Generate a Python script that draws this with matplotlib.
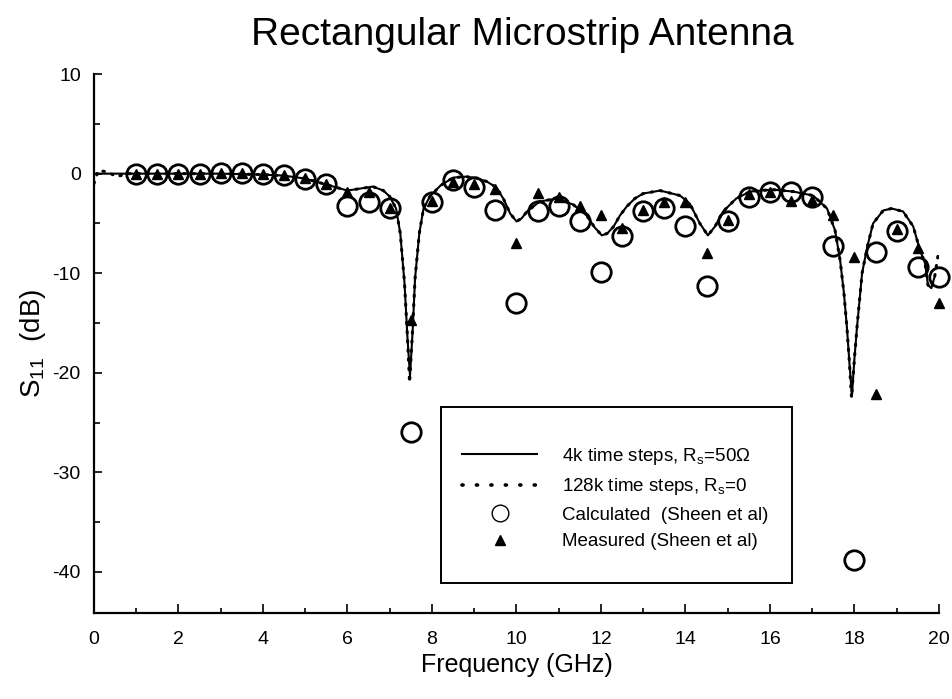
import matplotlib
matplotlib.use("Agg")
import matplotlib.pyplot as plt
from matplotlib.patches import Rectangle
from matplotlib.ticker import MultipleLocator

plt.rcParams['font.family'] = ['Liberation Sans', 'DejaVu Sans']
plt.rcParams['mathtext.fontset'] = 'custom'
plt.rcParams['mathtext.rm'] = 'Liberation Sans'
plt.rcParams['mathtext.it'] = 'Liberation Sans:italic'
plt.rcParams['axes.unicode_minus'] = False

# FDTD result, 4k time steps, Rs = 50 ohm
fdtd4k_freq = [0.0, 0.5, 1.0, 2.0, 3.0, 4.0, 4.5, 5.0, 5.5, 6.0, 6.3, 6.6, 6.85, 7.0,
               7.15, 7.25, 7.35, 7.42, 7.48, 7.54, 7.6, 7.7, 7.8, 7.95, 8.2, 8.5, 8.8,
               9.06, 9.3, 9.53, 9.7, 9.85, 10.0, 10.12, 10.25, 10.55, 10.95, 11.34,
               11.66, 11.85, 12.02, 12.15, 12.3, 12.45, 12.61, 12.8, 13.0, 13.4, 13.87,
               14.1, 14.34, 14.53, 14.7, 14.89, 15.2, 15.53, 16.05, 16.55, 17.02, 17.35,
               17.54, 17.66, 17.75, 17.82, 17.88, 17.94, 18.0, 18.06, 18.18, 18.3, 18.44,
               18.68, 18.88, 19.15, 19.39, 19.55, 19.67, 19.74, 19.82, 19.9]
fdtd4k_s11 = [0.0, 0.0, 0.0, 0.0, 0.0, -0.1, -0.2, -0.5, -1.1, -1.7, -1.5, -1.3, -1.7, -2.3,
              -3.5, -6.0, -11.0, -16.5, -20.3, -16.0, -10.5, -6.0, -3.5, -2.3, -1.2, -0.4, -0.3,
              -0.45, -0.8, -1.4, -2.6, -4.0, -4.8, -4.5, -3.8, -2.8, -2.5, -3.1,
              -4.2, -5.4, -6.2, -6.0, -5.3, -4.2, -3.3, -2.5, -2.0, -1.7, -2.2,
              -3.0, -5.0, -6.2, -5.3, -3.8, -2.5, -1.8, -1.6, -1.8, -2.2, -3.5,
              -5.7, -8.7, -12.0, -15.4, -19.0, -22.3, -18.5, -15.4, -10.0, -7.4, -5.0,
              -3.7, -3.5, -3.8, -5.3, -7.7, -9.0, -11.2, -11.5, -10.3]

# FDTD result, 128k time steps, Rs = 0
fdtd128k_freq = [0.0, 0.1, 0.3, 0.54, 0.8, 1.0, 2.0, 3.0, 4.0, 4.5, 5.0, 5.5, 6.0, 6.3, 6.6,
                 6.85, 7.0, 7.15, 7.25, 7.35, 7.42, 7.47, 7.53, 7.6, 7.7, 7.8, 7.95, 8.2,
                 8.5, 8.8, 9.06, 9.3, 9.53, 9.7, 9.85, 10.0, 10.12, 10.25, 10.55, 10.95,
                 11.34, 11.66, 11.85, 12.02, 12.15, 12.3, 12.45, 12.61, 12.8, 13.0, 13.4,
                 13.87, 14.1, 14.34, 14.53, 14.7, 14.89, 15.2, 15.53, 16.05, 16.55, 17.02,
                 17.35, 17.54, 17.66, 17.75, 17.82, 17.88, 17.93, 18.0, 18.06, 18.18, 18.3,
                 18.44, 18.68, 18.88, 19.15, 19.39, 19.55, 19.67, 19.74, 19.82, 19.9, 20.0]
fdtd128k_s11 = [-1.0, 0.3, 0.2, -0.3, 0.0, 0.0, 0.0, 0.0, -0.1, -0.2, -0.5, -1.1, -1.7, -1.5,
                -1.3, -1.7, -2.3, -3.5, -6.0, -11.0, -16.5, -21.0, -16.5, -10.5, -6.0, -3.5,
                -2.3, -1.2, -0.4, -0.3, -0.45, -0.8, -1.4, -2.6, -4.0, -4.8, -4.5, -3.8,
                -2.8, -2.5, -3.1, -4.2, -5.4, -6.2, -6.0, -5.3, -4.2, -3.3, -2.5, -2.0,
                -1.7, -2.2, -3.0, -5.0, -6.2, -5.3, -3.8, -2.5, -1.8, -1.6, -1.8, -2.2,
                -3.5, -5.7, -8.7, -12.0, -15.4, -19.0, -22.5, -18.5, -15.4, -10.0, -7.4,
                -5.0, -3.7, -3.5, -3.8, -5.3, -7.7, -9.0, -11.2, -11.5, -10.3, -7.6]

# Sheen et al. points
sheen_freq = [1.0, 1.5, 2.0, 2.5, 3.0, 3.5, 4.0, 4.5, 5.0, 5.5, 6.0, 6.5, 7.0, 7.5, 8.0,
              8.5, 9.0, 9.5, 10.0, 10.5, 11.0, 11.5, 12.0, 12.5, 13.0, 13.5, 14.0, 14.5,
              15.0, 15.5, 16.0, 16.5, 17.0, 17.5, 18.0, 18.5, 19.0, 19.5, 20.0]
calc_s11 = [0.0, 0.0, 0.0, 0.0, 0.1, 0.1, 0.0, -0.1, -0.5, -1.0, -3.3, -2.8, -3.5, -26.0,
            -2.8, -0.65, -1.3, -3.7, -13.0, -3.8, -3.3, -4.8, -9.9, -6.3, -3.8, -3.5, -5.3,
            -11.3, -4.8, -2.3, -1.8, -1.8, -2.3, -7.3, -38.8, -7.9, -5.8, -9.4, -10.4]
meas_s11 = [0.0, 0.0, 0.0, 0.0, 0.1, 0.1, 0.0, -0.1, -0.4, -1.0, -1.8, -1.8, -3.5, -14.7,
            -2.7, -0.8, -1.0, -1.5, -7.0, -1.9, -2.3, -3.3, -4.2, -5.5, -3.7, -2.8, -2.8,
            -8.0, -4.7, -2.0, -1.8, -2.7, -2.6, -4.2, -8.4, -22.1, -5.6, -7.5, -13.0]

fig = plt.figure(figsize=(9.53, 6.99), dpi=100)
ax = fig.add_axes([0.0986, 0.1235, 0.8867, 0.7705])

ax.plot(fdtd4k_freq, fdtd4k_s11, color='black', lw=1.5,
        label='4k time steps, R$_\\mathregular{s}$=50\u03a9')
ax.plot(fdtd128k_freq, fdtd128k_s11, color='black', lw=2.2, linestyle=(0, (0.5, 2.5)),
        dash_capstyle='round', label='128k time steps, R$_\\mathregular{s}$=0')
ax.plot(sheen_freq, calc_s11, linestyle='none', marker='o', ms=14, mfc='none',
        mec='black', mew=2.0, clip_on=False, label='Calculated  (Sheen et al)')
ax.plot(sheen_freq, meas_s11, linestyle='none', marker='^', ms=7, color='black',
        clip_on=False, label='Measured (Sheen et al)')

ax.set_xlim(0, 20)
ax.set_ylim(-44.1, 10)
ax.xaxis.set_major_locator(MultipleLocator(2))
ax.xaxis.set_minor_locator(MultipleLocator(1))
ax.yaxis.set_major_locator(MultipleLocator(10))
ax.yaxis.set_minor_locator(MultipleLocator(5))
ax.tick_params(axis='both', which='both', direction='in', width=1.2, labelsize=14)
ax.tick_params(axis='x', which='major', length=6.5, pad=13)
ax.tick_params(axis='x', which='minor', length=3.5)
ax.tick_params(axis='y', which='major', length=6, pad=9.5)
ax.tick_params(axis='y', which='minor', length=4.5)
for side in ['top', 'right']:
    ax.spines[side].set_visible(False)
for side in ['left', 'bottom']:
    ax.spines[side].set_linewidth(1.6)

ax.set_xlabel('Frequency (GHz)', fontsize=18, labelpad=4)
ax.set_ylabel('S$_\\mathregular{11}$  (dB)', fontsize=20, labelpad=3)
fig.suptitle('Rectangular Microstrip Antenna', fontsize=28, x=0.548, y=0.975, va='top')

# legend box drawn by hand, legend itself without frame
ax.add_patch(Rectangle((0.411, 0.055), 0.415, 0.327, transform=ax.transAxes,
                       facecolor='white', edgecolor='black', lw=1.4, zorder=5))
handles, labels = ax.get_legend_handles_labels()
handles[1] = plt.Line2D([], [], color='black', lw=2.6, linestyle=(0, (0.3, 3.7)),
                        dash_capstyle='round')
handles[2] = plt.Line2D([], [], linestyle='none', marker='o', ms=12, mfc='none',
                        mec='black', mew=1.0)
leg = ax.legend(handles, labels, loc='center left', bbox_to_anchor=(0.425, 0.213),
                frameon=False, fontsize=13.5, handlelength=4.0, handletextpad=1.3,
                labelspacing=0.5, borderpad=0)
leg.set_zorder(6)

fig.savefig('out.png', dpi=100)
